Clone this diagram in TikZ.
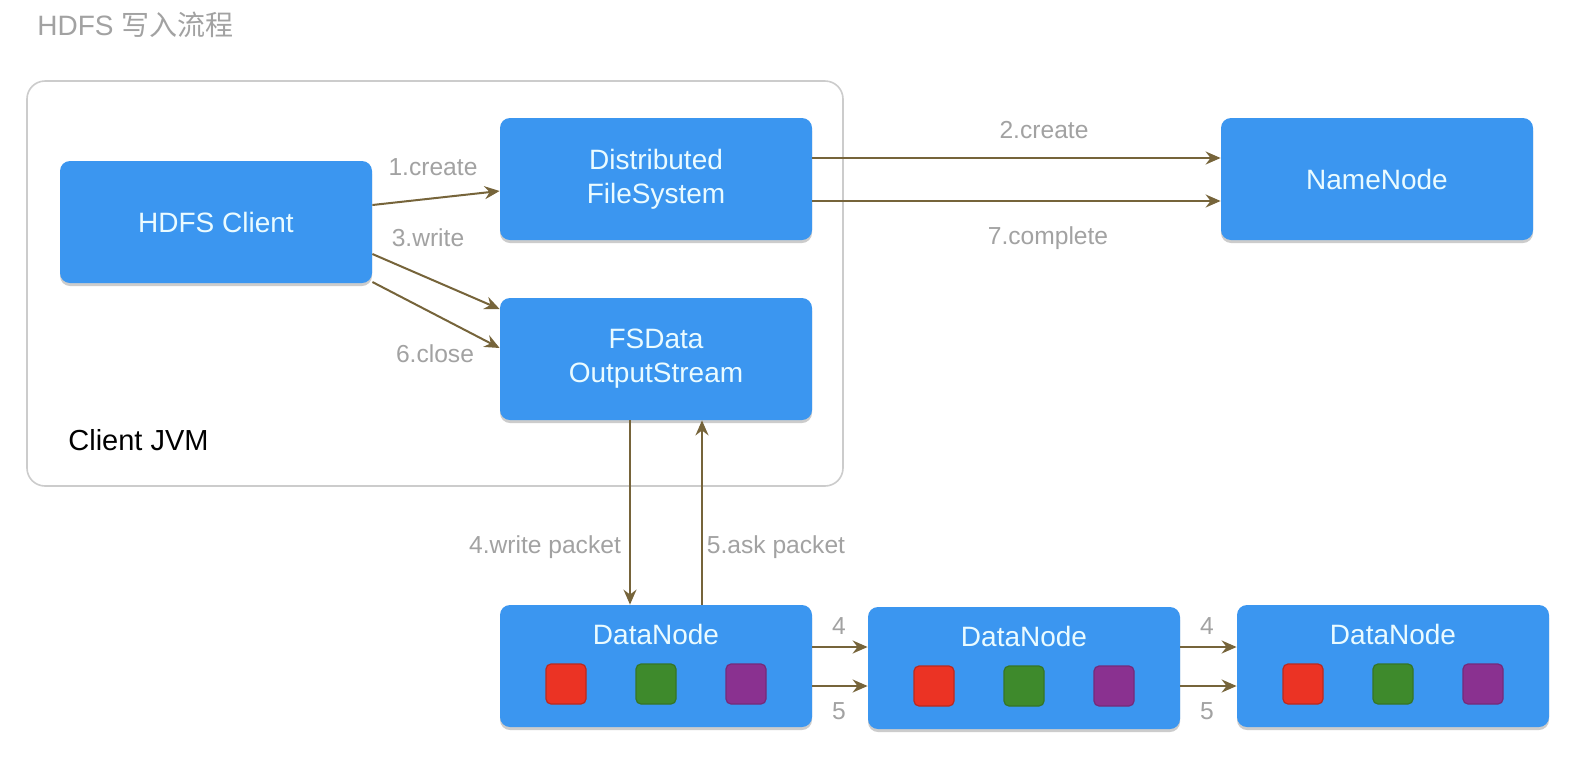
\documentclass[tikz,border=0pt]{standalone}
\usepackage{fontspec}
\setmainfont{Liberation Sans}
\newfontfamily\cjk{Noto Sans CJK SC}
\usetikzlibrary{arrows.meta,calc,shadows}

\definecolor{boxblue}{HTML}{3B96F0}
\definecolor{boxtext}{HTML}{EAFBFF}
\definecolor{arrowc}{HTML}{76643A}
\definecolor{lblgray}{HTML}{A2A2A2}
\definecolor{jvmline}{HTML}{CCCCCC}
\definecolor{blkred}{HTML}{EB3324}
\definecolor{blkgreen}{HTML}{3E8A2C}
\definecolor{blkpurple}{HTML}{8A3190}

\begin{document}
\begin{tikzpicture}[x=0.5pt,y=-0.5pt,
  box/.style={fill=boxblue,rounded corners=5pt,minimum width=156pt,minimum height=61pt,
    text=boxtext,font=\fontsize{14}{17}\selectfont,align=center,
    drop shadow={shadow xshift=0pt,shadow yshift=-1.5pt,opacity=0.4}},
  boxtxt/.style={text=boxtext,font=\fontsize{14}{17}\selectfont},
  blk/.style={rounded corners=2.5pt,minimum size=20pt,inner sep=0pt,line width=0.6pt},
  lbl/.style={text=lblgray,font=\fontsize{12.3}{14}\selectfont,inner sep=1pt},
  conn/.style={draw=arrowc,line width=1pt,-{Stealth[length=7.5pt,width=6.5pt,inset=2.5pt]}}]
  \useasboundingbox[fill=white] (0,0) rectangle (1580,772);

  \node[text=lblgray,font=\fontsize{14}{16}\selectfont,anchor=west,inner sep=0pt] (title) at (37,25) {HDFS {\cjk 写入流程}};

  % client jvm
  \draw[jvmline,line width=0.8pt,rounded corners=9pt] (27,81) rectangle (843,486);
  \node[font=\fontsize{14.5}{17}\selectfont,anchor=west,inner sep=0pt] (jvm) at (68,440) {Client JVM};

  \node[box] (hc) at (216,222) {HDFS Client};
  \node[box] (dfs) at (656,179) {Distributed\\FileSystem};
  \node[box] (nn) at (1377,179) {NameNode};
  \node[box] (fs) at (656,359) {FSData\\OutputStream};

  % datanodes
  \foreach \n/\x/\y in {1/656/666,2/1024/668,3/1393/666} {
    \node[box] (dn\n) at (\x,\y) {};
    \node[boxtxt] (dnt\n) at ($(dn\n)+(0,-32)$) {DataNode};
    \node[blk,fill=blkred,draw=blkred!80!black] (dnr\n) at ($(dn\n)+(-90,18)$) {};
    \node[blk,fill=blkgreen,draw=blkgreen!85!black] (dng\n) at ($(dn\n)+(0,18)$) {};
    \node[blk,fill=blkpurple,draw=blkpurple!85!black] (dnp\n) at ($(dn\n)+(90,18)$) {};
  }

  \draw[conn] ($(hc.east)+(0,-17)$) -- ($(dfs.west)+(0,12)$);
  \draw[conn] ($(hc.east)+(0,32)$) -- ($(fs.west)+(0,-50)$);
  \draw[conn] ($(hc.east)+(0,60)$) -- ($(fs.west)+(0,-11)$);
  \draw[conn] ($(dfs.east)+(0,-21)$) -- ($(nn.west)+(0,-21)$);
  \draw[conn] ($(dfs.east)+(0,22)$) -- ($(nn.west)+(0,22)$);
  \draw[conn] ($(fs.south)+(-26,0)$) -- ($(dn1.north)+(-26,0)$);
  \draw[conn] ($(dn1.north)+(46,0)$) -- ($(fs.south)+(46,0)$);
  \draw[conn] ($(dn1.east)+(0,-19)$) -- ($(dn2.west)+(0,-21)$);
  \draw[conn] ($(dn1.east)+(0,20)$) -- ($(dn2.west)+(0,18)$);
  \draw[conn] ($(dn2.east)+(0,-21)$) -- ($(dn3.west)+(0,-19)$);
  \draw[conn] ($(dn2.east)+(0,18)$) -- ($(dn3.west)+(0,20)$);

  \node[lbl] (l1) at (433,167) {1.create};
  \node[lbl] (l3) at (428,238) {3.write};
  \node[lbl] (l6) at (435,354) {6.close};
  \node[lbl] (l2) at (1044,130) {2.create};
  \node[lbl] (l7) at (1048,238) {7.complete};
  \node[lbl] (l4) at (545,547) {4.write packet};
  \node[lbl] (l5) at (776,547) {5.ask packet};
  \node[lbl] (l4a) at (839,626) {4};
  \node[lbl] (l5a) at (839,711) {5};
  \node[lbl] (l4b) at (1207,626) {4};
  \node[lbl] (l5b) at (1207,711) {5};
\end{tikzpicture}
\end{document}
